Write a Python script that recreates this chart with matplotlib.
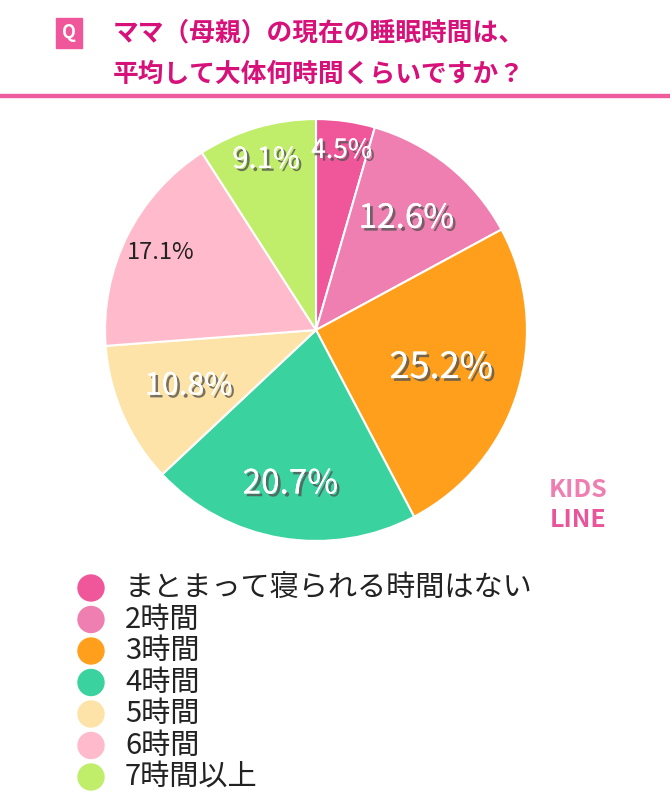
import matplotlib.pyplot as plt
import matplotlib.patheffects as pe
from matplotlib.patches import Rectangle, Ellipse
import numpy as np

plt.rcParams['font.family'] = ['Noto Sans CJK JP', 'DejaVu Sans']

labels = ['まとまって寝られる時間はない', '2時間', '3時間', '4時間', '5時間', '6時間', '7時間以上']
values = [4.5, 12.6, 25.2, 20.7, 10.8, 17.1, 9.1]
colors = ['#F0579A', '#EF7FB0', '#FF9F1C', '#3AD29F', '#FDE3A7', '#FFBACB', '#C0EE6A']
pct_dist = [0.86, 0.68, 0.62, 0.74, 0.66, 0.82, 0.84]
pct_size = [19, 24, 26, 24, 22, 17, 21]

fig = plt.figure(figsize=(6.7, 7.99), dpi=100)

# header
fig.patches.append(Rectangle((56/670, 1-48/799), 26/670, 30/799, transform=fig.transFigure,
                             color='#F0579A', zorder=1))
fig.text(69/670, 1-33/799, 'Q', color='white', fontsize=13, fontweight='bold',
         ha='center', va='center')
fig.text(113/670, 1-33/799, 'ママ（母親）の現在の睡眠時間は、', color='#D6127A', fontsize=18.5,
         fontweight='bold', va='center')
fig.text(113/670, 1-74/799, '平均して大体何時間くらいですか？', color='#D6127A', fontsize=18.5,
         fontweight='bold', va='center')
fig.patches.append(Rectangle((0, 1-97/799), 1, 3/799, transform=fig.transFigure,
                             color='#EE5C9E'))

ax = fig.add_axes([(316-212)/670, 1-(330+212)/799, 424/670, 424/799])
wedges, texts = ax.pie(values, colors=colors, startangle=90, counterclock=False,
                       wedgeprops=dict(edgecolor='white', linewidth=1.5))
for w, v, d, s in zip(wedges, values, pct_dist, pct_size):
    ang = np.deg2rad((w.theta1 + w.theta2) / 2)
    if v == 17.1:
        ax.text(d*np.cos(ang), d*np.sin(ang), f'{v}%', ha='center', va='center',
                fontsize=s, color='#222222')
    else:
        ax.text(d*np.cos(ang), d*np.sin(ang), f'{v}%', ha='center', va='center',
                fontsize=s, color='white',
                path_effects=[pe.withSimplePatchShadow(offset=(2, -2), shadow_rgbFace='#555555', alpha=0.8),
                              pe.Normal()])
ax.set_xlim(-1.005, 1.005)
ax.set_ylim(-1.005, 1.005)
ax.set_aspect('equal')

# logo
fig.text(578/670, 1-490/799, 'KIDS', color='#EF7FB0', fontsize=18, fontweight='bold',
         ha='center', va='center')
fig.text(578/670, 1-520/799, 'LINE', color='#E8559A', fontsize=18, fontweight='bold',
         ha='center', va='center')

# legend
for i, (lab, c) in enumerate(zip(labels, colors)):
    y = 1 - (588 + i*31.5)/799
    fig.patches.append(Ellipse((91/670, y), 26/670, 26/799, transform=fig.transFigure, color=c))
    fig.text(125/670, y, lab, fontsize=21, va='center', color='#222222')

fig.savefig('out.png', dpi=100)
